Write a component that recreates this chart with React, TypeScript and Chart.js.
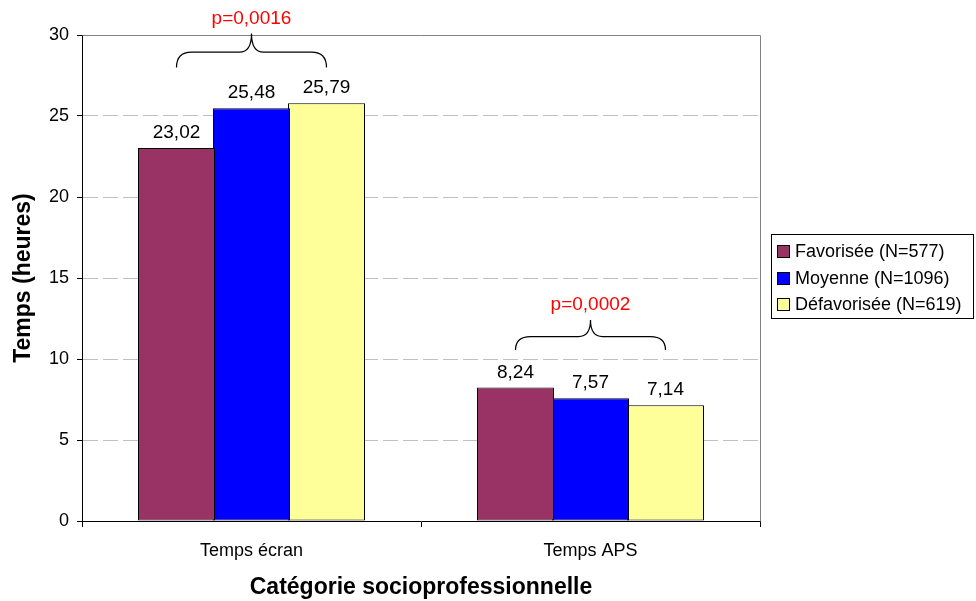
import React, { useEffect, useRef } from 'react';
import { Chart, registerables } from 'chart.js';

Chart.register(...registerables);

const categories = ['Temps écran', 'Temps APS'];
const seriesNames = ['Favorisée (N=577)', 'Moyenne (N=1096)', 'Défavorisée (N=619)'];
const favorisee = [23.02, 8.24];
const moyenne = [25.48, 7.57];
const defavorisee = [25.79, 7.14];
const seriesColors = ['#993366', '#0000FF', '#FFFF99'];
const pValues = ['p=0,0016', 'p=0,0002'];
const braceBottom = [28.0, 10.55];
const braceTop = [30.1, 12.4];
const yMin = 0;
const yMax = 30;
const yStep = 5;
const xTitle = 'Catégorie socioprofessionnelle';
const yTitle = 'Temps (heures)';

const FONT = '"Liberation Sans", Arial, sans-serif';

const fmt = (v: number) => v.toFixed(2).replace('.', ',');

const annotationsPlugin = {
  id: 'annotations',
  afterDraw(chart: any) {
    const { ctx, chartArea, scales } = chart;
    const y = scales.y;
    ctx.save();
    // plot border (top + right)
    ctx.strokeStyle = '#808080';
    ctx.lineWidth = 1;
    ctx.beginPath();
    ctx.moveTo(Math.round(chartArea.left) + 0.5, Math.round(chartArea.top) + 0.5);
    ctx.lineTo(Math.round(chartArea.right) + 0.5, Math.round(chartArea.top) + 0.5);
    ctx.lineTo(Math.round(chartArea.right) + 0.5, Math.round(chartArea.bottom) + 0.5);
    ctx.stroke();

    // value labels
    ctx.fillStyle = '#000';
    ctx.font = `19px ${FONT}`;
    ctx.textAlign = 'center';
    ctx.textBaseline = 'alphabetic';
    chart.data.datasets.forEach((ds: any, i: number) => {
      const meta = chart.getDatasetMeta(i);
      meta.data.forEach((el: any, j: number) => {
        ctx.fillText(fmt(ds.data[j]), el.x, el.y - 10);
      });
    });

    // braces + p values
    const m0 = chart.getDatasetMeta(0);
    const m2 = chart.getDatasetMeta(chart.data.datasets.length - 1);
    categories.forEach((_, c) => {
      const x1 = m0.data[c].x;
      const x2 = m2.data[c].x;
      const cx = (x1 + x2) / 2;
      const yE = y.getPixelForValue(braceBottom[c]);
      const yT = y.getPixelForValue(braceTop[c]);
      const yM = yE - (yE - yT) * 0.45;
      ctx.strokeStyle = '#000';
      ctx.lineWidth = 1.2;
      ctx.beginPath();
      ctx.moveTo(x1, yE);
      ctx.quadraticCurveTo(x1, yM, x1 + 15, yM);
      ctx.lineTo(cx - 12, yM);
      ctx.quadraticCurveTo(cx, yM, cx, yT);
      ctx.moveTo(x2, yE);
      ctx.quadraticCurveTo(x2, yM, x2 - 15, yM);
      ctx.lineTo(cx + 12, yM);
      ctx.quadraticCurveTo(cx, yM, cx, yT);
      ctx.stroke();
      ctx.fillStyle = '#FF0000';
      ctx.font = `19px ${FONT}`;
      ctx.textAlign = 'center';
      ctx.textBaseline = 'middle';
      ctx.fillText(pValues[c], cx, yT - 15);
    });

    // legend
    const lx = chartArea.right + 11;
    const lw = 202;
    const lh = 84;
    const ly = (chartArea.top + chartArea.bottom) / 2 - lh / 2 - 2;
    ctx.strokeStyle = '#000';
    ctx.lineWidth = 1;
    ctx.strokeRect(Math.round(lx) + 0.5, Math.round(ly) + 0.5, lw, lh);
    ctx.font = `18px ${FONT}`;
    ctx.textAlign = 'left';
    ctx.textBaseline = 'middle';
    chart.data.datasets.forEach((ds: any, i: number) => {
      const cy = ly + 17 + i * 26.7;
      const sx = Math.round(lx + 6) + 0.5;
      const sy = Math.round(cy - 6) + 0.5;
      ctx.fillStyle = ds.backgroundColor;
      ctx.fillRect(sx, sy, 12, 12);
      ctx.strokeStyle = '#000';
      ctx.strokeRect(sx, sy, 12, 12);
      ctx.fillStyle = '#000';
      ctx.fillText(ds.label, lx + 24, cy + 1);
    });
    ctx.restore();
  },
};

export default function App() {
  const ref = useRef<HTMLCanvasElement | null>(null);
  useEffect(() => {
    if (!ref.current) return;
    const seriesData = [favorisee, moyenne, defavorisee];
    const chart = new Chart(ref.current, {
      type: 'bar',
      data: {
        labels: categories,
        datasets: seriesNames.map((name, i) => ({
          label: name,
          data: seriesData[i],
          backgroundColor: seriesColors[i],
          borderColor: '#000',
          borderWidth: 1,
          borderSkipped: false,
          categoryPercentage: 225 / 339,
          barPercentage: 77 / 75,
        })),
      },
      options: {
        responsive: false,
        animation: false,
        devicePixelRatio: 1,
        layout: { padding: { top: 35, right: 216, bottom: 0, left: 0 } },
        plugins: { legend: { display: false }, tooltip: { enabled: false } },
        scales: {
          x: {
            type: 'category',
            offset: true,
            grid: {
              offset: true,
              drawOnChartArea: false,
              drawTicks: true,
              tickLength: 6,
              tickColor: '#000',
              color: '#000',
            },
            border: { color: '#000', width: 1 },
            ticks: { color: '#000', font: { family: FONT, size: 18 }, padding: 13 },
            title: {
              display: true,
              text: xTitle,
              color: '#000',
              font: { family: FONT, size: 23, weight: 'bold' },
              padding: { top: 0, bottom: 0 },
            },
            afterFit: (s: any) => {
              s.height = 80;
            },
          },
          y: {
            min: yMin,
            max: yMax,
            ticks: {
              stepSize: yStep,
              color: '#000',
              font: { family: FONT, size: 18 },
              padding: 8,
            },
            grid: {
              color: '#c0c0c0',
              tickColor: '#000',
              tickLength: 5,
              lineWidth: 1,
            },
            border: { color: '#000', width: 1, dash: [15, 5] },
            title: {
              display: true,
              text: yTitle,
              color: '#000',
              font: { family: FONT, size: 23, weight: 'bold' },
              padding: { top: 10, bottom: 0 },
            },
            afterFit: (s: any) => {
              s.width = 82;
            },
          },
        },
      } as any,
      plugins: [annotationsPlugin],
    });
    return () => chart.destroy();
  }, []);
  return (
    <div style={{ position: 'absolute', left: 0, top: 0, width: 976, height: 601, background: '#fff' }}>
      <canvas ref={ref} width={976} height={601} style={{ display: 'block' }} />
    </div>
  );
}
